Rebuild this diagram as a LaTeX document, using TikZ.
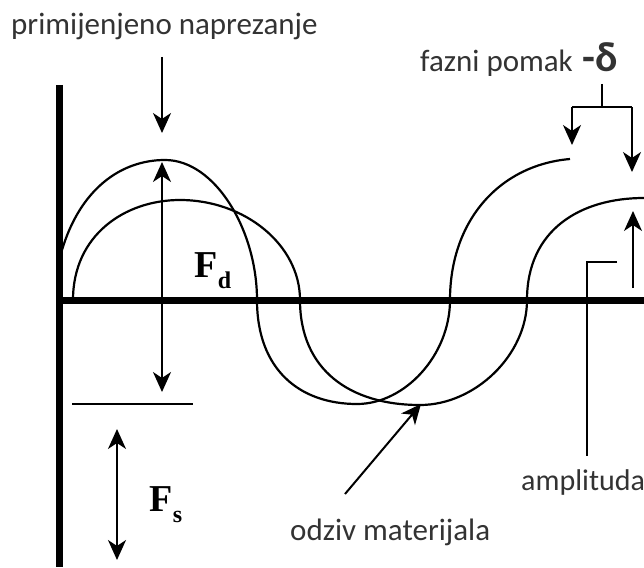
\documentclass[tikz,border=0pt]{standalone}
\usepackage{fontspec}
\setmainfont{Carlito}
\newfontfamily\forcefont{Liberation Serif}
\usetikzlibrary{arrows.meta}
\newcommand{\flab}[2]{{\forcefont\bfseries\fontsize{38pt}{38pt}\selectfont #1}\kern0.5pt\raisebox{-11pt}{\forcefont\bfseries\fontsize{24pt}{24pt}\selectfont #2}}

\tikzset{
  axisline/.style={line width=7pt},
  wave/.style={line width=2.2pt,line join=round},
  pointer/.style={line width=2pt,-{Stealth[length=20pt,width=18pt,inset=6pt]}},
  twoway/.style={line width=2pt,{Stealth[length=20pt,width=18pt,inset=6pt]}-{Stealth[length=20pt,width=18pt,inset=6pt]}},
  helper/.style={line width=2pt},
  caption/.style={anchor=base west,inner sep=0pt,font=\fontsize{31pt}{31pt}\selectfont,text=black!80}
}

\begin{document}
\begin{tikzpicture}[x=1pt,y=-1pt]
  \path[use as bounding box] (0,0) rectangle (644,567);
  % ---- osi ----
  \coordinate (O) at (59,300);
  \coordinate (ytop) at (59,85);
  \coordinate (ybot) at (59,567);
  \coordinate (xend) at (644,300);
  \draw[axisline] (ytop) -- (ybot);
  \draw[axisline] (O) -- (xend);
  % ---- primijenjeno naprezanje (vanjski val) ----
  \draw[wave] (62,250) .. controls (80,190) and (120,160) .. (165,160)
    .. controls (215,160) and (257,230) .. (257,300)
    .. controls (257,370) and (300,404) .. (357,404)
    .. controls (405,404) and (450,355) .. (450,300)
    .. controls (450,220) and (500,165) .. (570,159);
  % ---- odziv materijala (unutarnji val) ----
  \draw[wave] (73,300) .. controls (73,235) and (125,200) .. (180,200)
    .. controls (245,200) and (300,245) .. (300,300)
    .. controls (300,370) and (350,405) .. (420,405)
    .. controls (475,405) and (527,355) .. (527,300)
    .. controls (527,230) and (580,198) .. (644,198);
  % ---- sila Fd i Fs ----
  \coordinate (dtop) at (162,162);
  \coordinate (dbot) at (162,392);
  \draw[twoway] (dtop) -- (dbot);
  \node[anchor=base west,inner sep=0pt] (Fd) at (194,277) {\flab{F}{d}};
  \coordinate (barL) at (72,404);
  \coordinate (barR) at (193,404);
  \draw[line width=2.5pt] (barL) -- (barR);
  \coordinate (stop) at (117,429);
  \coordinate (sbot) at (117,560);
  \draw[twoway] (stop) -- (sbot);
  \node[anchor=base west,inner sep=0pt] (Fs) at (149,511) {\flab{F}{s}};
  % ---- oznake ----
  \node[caption] (stress) at (11,35) {primijenjeno naprezanje};
  \coordinate (sa) at (162,57);
  \coordinate (sb) at (162,133);
  \draw[pointer] (sa) -- (sb);
  \node[caption] (phase) at (420,72) {fazni pomak\hspace{0.3em}{\bfseries\fontsize{42pt}{42pt}\selectfont -δ}};
  \coordinate (p0) at (602,84);
  \coordinate (pm) at (602,107);
  \coordinate (pl) at (572,107);
  \coordinate (pr) at (632,107);
  \draw[helper] (p0) -- (pm);
  \draw[helper] (pl) -- (pr);
  \draw[pointer] (pl) -- (572,145);
  \draw[pointer] (pr) -- (632,172);
  \coordinate (aa) at (633,288);
  \coordinate (ab) at (633,211);
  \draw[pointer] (aa) -- (ab);
  \coordinate (a1) at (617,262);
  \coordinate (a2) at (587,262);
  \coordinate (a3) at (587,456);
  \draw[helper,line width=1.6pt] (a1) -- (a2) -- (a3);
  \node[caption,font=\fontsize{30pt}{30pt}\selectfont] (ampl) at (521,490) {amplituda};
  \node[caption] (resp) at (290,540) {odziv materijala};
  \coordinate (ra) at (345,494);
  \coordinate (rb) at (421,404);
  \draw[pointer] (ra) -- (rb);
\end{tikzpicture}
\end{document}
